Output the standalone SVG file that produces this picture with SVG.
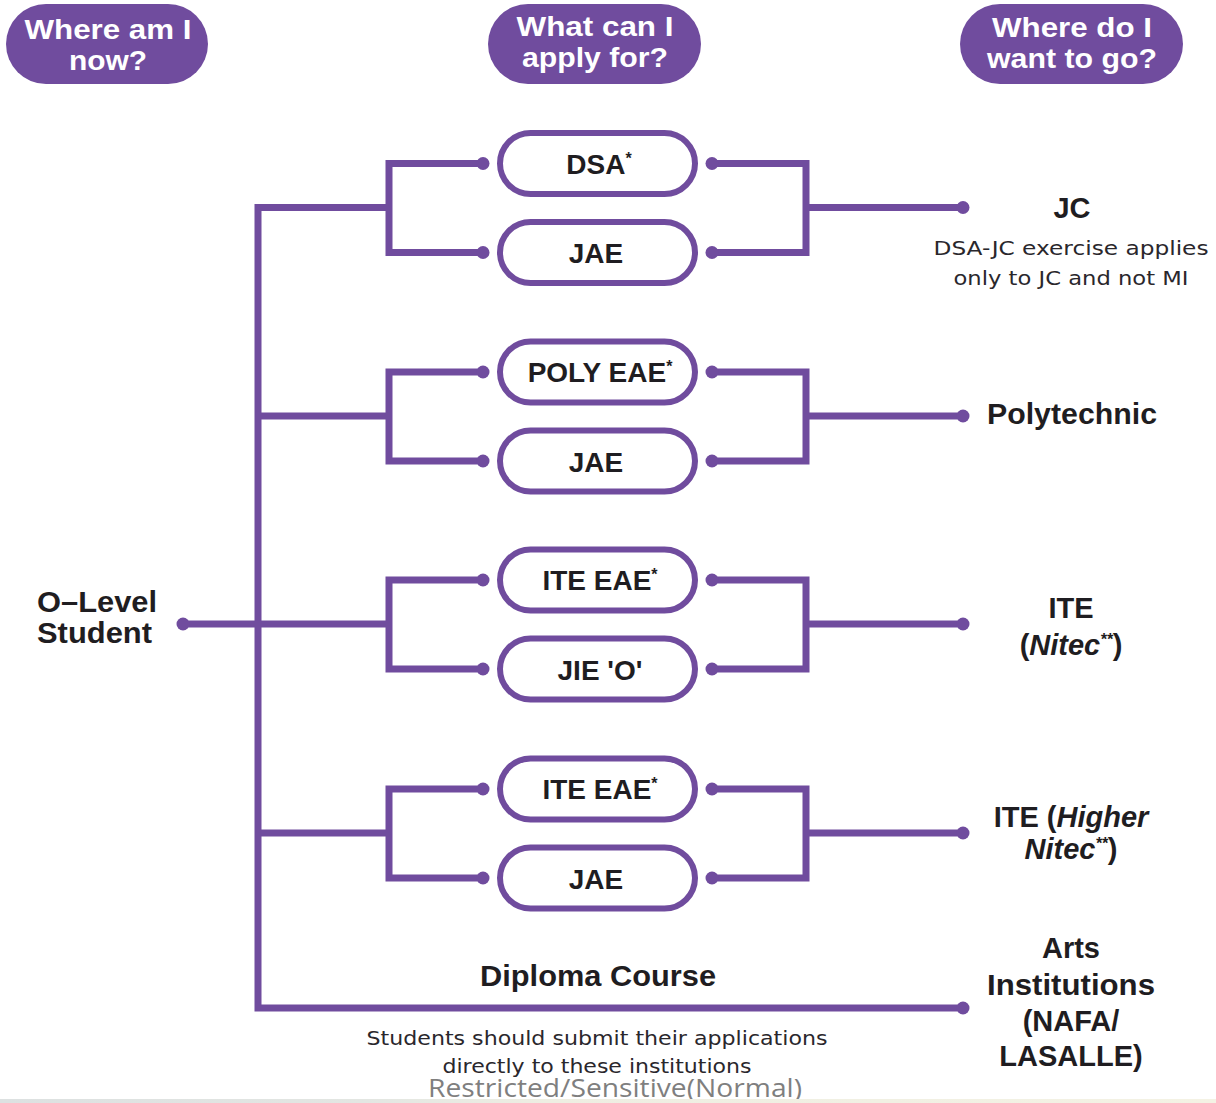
<svg xmlns="http://www.w3.org/2000/svg" width="1216" height="1103" viewBox="0 0 1216 1103">
<defs>
<style>
.hdr{fill:#704c9e}
.hdrt{font-family:"Liberation Sans",Arial,sans-serif;font-weight:bold;font-size:28px;fill:#ffffff;text-anchor:middle}
.pill{fill:#ffffff;stroke:#704c9e;stroke-width:6}
.pt{font-family:"Liberation Sans",Arial,sans-serif;font-weight:bold;font-size:28px;fill:#1f1d21;text-anchor:middle}
.sup{font-size:16px}
.lbl{font-family:"Liberation Sans",Arial,sans-serif;font-weight:bold;font-size:29px;fill:#1f1d21;text-anchor:middle}
.sm{font-family:"DejaVu Sans",sans-serif;font-size:20px;fill:#2a272c;text-anchor:middle}
.ln{fill:none;stroke:#704c9e;stroke-width:7;stroke-linejoin:miter;stroke-linecap:butt}
.dot{fill:#704c9e}
.it{font-style:italic}
.foot{font-family:"Open Sans",sans-serif;font-size:25px;fill:#7f7f7f;text-anchor:middle}
</style>
<linearGradient id="strip" x1="0" y1="0" x2="1" y2="0">
<stop offset="0" stop-color="#dde1e1"/>
<stop offset="0.3" stop-color="#e3e6e2"/>
<stop offset="0.45" stop-color="#eeeee2"/>
<stop offset="1" stop-color="#f4f2e4"/>
</linearGradient>
</defs>
<rect x="0" y="0" width="1216" height="1103" fill="#ffffff"/>

<g id="header-now">
<rect class="hdr" x="6" y="4" width="202" height="80" rx="40"/>
<text class="hdrt" x="108" y="39" textLength="167" lengthAdjust="spacingAndGlyphs">Where am I</text>
<text class="hdrt" x="108" y="70" textLength="78" lengthAdjust="spacingAndGlyphs">now?</text>
</g>
<g id="header-apply">
<rect class="hdr" x="488" y="4" width="213" height="80" rx="40"/>
<text class="hdrt" x="595" y="36" textLength="157" lengthAdjust="spacingAndGlyphs">What can I</text>
<text class="hdrt" x="595" y="67" textLength="146" lengthAdjust="spacingAndGlyphs">apply for?</text>
</g>
<g id="header-go">
<rect class="hdr" x="960" y="4" width="223" height="80" rx="40"/>
<text class="hdrt" x="1072" y="37" textLength="160" lengthAdjust="spacingAndGlyphs">Where do I</text>
<text class="hdrt" x="1072" y="68" textLength="170" lengthAdjust="spacingAndGlyphs">want to go?</text>
</g>

<g id="connectors">
<path class="ln" d="M389,207.5 H258 V1008 H963"/>
<path class="ln" d="M483,163.5 H389 V252.5 H483"/>
<path class="ln" d="M712,163.5 H806 V252.5 H712 M806,207.5 H963"/>
<path class="ln" d="M258,416 H389 M483,372 H389 V461 H483"/>
<path class="ln" d="M712,372 H806 V461 H712 M806,416 H963"/>
<path class="ln" d="M183,624 H389 M483,580 H389 V669 H483"/>
<path class="ln" d="M712,580 H806 V669 H712 M806,624 H963"/>
<path class="ln" d="M258,833 H389 M483,789 H389 V878 H483"/>
<path class="ln" d="M712,789 H806 V878 H712 M806,833 H963"/>
<circle class="dot" cx="183" cy="624" r="6.5"/>
<circle class="dot" cx="483" cy="163.5" r="6.5"/>
<circle class="dot" cx="483" cy="252.5" r="6.5"/>
<circle class="dot" cx="483" cy="372" r="6.5"/>
<circle class="dot" cx="483" cy="461" r="6.5"/>
<circle class="dot" cx="483" cy="580" r="6.5"/>
<circle class="dot" cx="483" cy="669" r="6.5"/>
<circle class="dot" cx="483" cy="789" r="6.5"/>
<circle class="dot" cx="483" cy="878" r="6.5"/>
<circle class="dot" cx="712" cy="163.5" r="6.5"/>
<circle class="dot" cx="712" cy="252.5" r="6.5"/>
<circle class="dot" cx="712" cy="372" r="6.5"/>
<circle class="dot" cx="712" cy="461" r="6.5"/>
<circle class="dot" cx="712" cy="580" r="6.5"/>
<circle class="dot" cx="712" cy="669" r="6.5"/>
<circle class="dot" cx="712" cy="789" r="6.5"/>
<circle class="dot" cx="712" cy="878" r="6.5"/>
<circle class="dot" cx="963" cy="207.5" r="6.5"/>
<circle class="dot" cx="963" cy="416" r="6.5"/>
<circle class="dot" cx="963" cy="624" r="6.5"/>
<circle class="dot" cx="963" cy="833" r="6.5"/>
<circle class="dot" cx="963" cy="1008" r="6.5"/>
</g>

<g id="olevel">
<text class="lbl" style="text-anchor:start" x="37" y="612" textLength="120" lengthAdjust="spacingAndGlyphs">O–Level</text>
<text class="lbl" style="text-anchor:start" x="37" y="643" textLength="115" lengthAdjust="spacingAndGlyphs">Student</text>
</g>

<g id="dsa">
<rect class="pill" x="500" y="133" width="195" height="61" rx="30.5"/>
<text class="pt" x="599" y="174">DSA<tspan class="sup" dy="-10">*</tspan></text>
</g>
<g id="jae1">
<rect class="pill" x="500" y="222" width="195" height="61" rx="30.5"/>
<text class="pt" x="596" y="263">JAE</text>
</g>
<g id="polyeae">
<rect class="pill" x="500" y="341.5" width="195" height="61" rx="30.5"/>
<text class="pt" x="600" y="382">POLY EAE<tspan class="sup" dy="-10">*</tspan></text>
</g>
<g id="jae2">
<rect class="pill" x="500" y="430.5" width="195" height="61" rx="30.5"/>
<text class="pt" x="596" y="472">JAE</text>
</g>
<g id="iteeae1">
<rect class="pill" x="500" y="549.5" width="195" height="61" rx="30.5"/>
<text class="pt" x="600" y="590">ITE EAE<tspan class="sup" dy="-10">*</tspan></text>
</g>
<g id="jieo">
<rect class="pill" x="500" y="638.5" width="195" height="61" rx="30.5"/>
<text class="pt" x="600" y="680">JIE 'O'</text>
</g>
<g id="iteeae2">
<rect class="pill" x="500" y="758.5" width="195" height="61" rx="30.5"/>
<text class="pt" x="600" y="799">ITE EAE<tspan class="sup" dy="-10">*</tspan></text>
</g>
<g id="jae3">
<rect class="pill" x="500" y="847.5" width="195" height="61" rx="30.5"/>
<text class="pt" x="596" y="889">JAE</text>
</g>

<g id="jc">
<text class="lbl" x="1072" y="218">JC</text>
<text class="sm" x="1071" y="255" textLength="275" lengthAdjust="spacingAndGlyphs">DSA-JC exercise applies</text>
<text class="sm" x="1071" y="285" textLength="235" lengthAdjust="spacingAndGlyphs">only to JC and not MI</text>
</g>
<g id="poly">
<text class="lbl" x="1072" y="424" textLength="170" lengthAdjust="spacingAndGlyphs">Polytechnic</text>
</g>
<g id="ite">
<text class="lbl" x="1071" y="618">ITE</text>
<text class="lbl" x="1071" y="655">(<tspan class="it">Nitec<tspan class="sup" dy="-10">**</tspan></tspan><tspan dy="10">)</tspan></text>
</g>
<g id="itehigher">
<text class="lbl" x="1071" y="827">ITE (<tspan class="it">Higher</tspan></text>
<text class="lbl" x="1071" y="859"><tspan class="it">Nitec<tspan class="sup" dy="-10">**</tspan></tspan><tspan dy="10">)</tspan></text>
</g>
<g id="diploma">
<text class="lbl" x="598" y="986" textLength="236" lengthAdjust="spacingAndGlyphs">Diploma Course</text>
<text class="sm" x="597" y="1045" textLength="461" lengthAdjust="spacingAndGlyphs">Students should submit their applications</text>
<text class="sm" x="597" y="1073" textLength="309" lengthAdjust="spacingAndGlyphs">directly to these institutions</text>
</g>
<g id="arts">
<text class="lbl" x="1071" y="958">Arts</text>
<text class="lbl" x="1071" y="995" textLength="168" lengthAdjust="spacingAndGlyphs">Institutions</text>
<text class="lbl" x="1071" y="1031">(NAFA/</text>
<text class="lbl" x="1071" y="1066">LASALLE)</text>
</g>

<text class="foot" x="615" y="1097" textLength="374" lengthAdjust="spacingAndGlyphs">Restricted/Sensitive(Normal)</text>
<rect x="0" y="1099" width="1216" height="4" fill="url(#strip)"/>
</svg>
